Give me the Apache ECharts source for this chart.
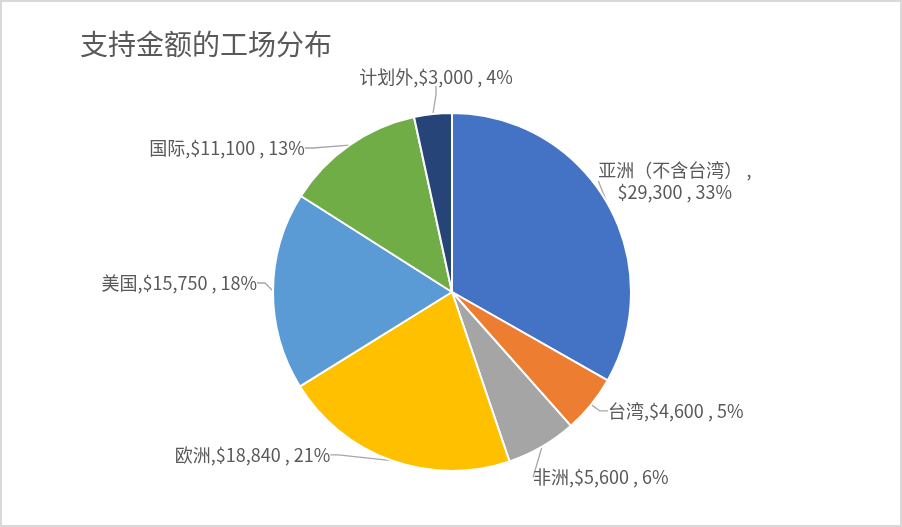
<!DOCTYPE html>
<html>
<head>
<meta charset="utf-8">
<script src="https://cdn.jsdelivr.net/npm/echarts@6/dist/echarts.min.js"></script>
<style>
html,body{margin:0;padding:0;background:#fff;}
#chart{position:absolute;left:0;top:0;width:902px;height:527px;}
#frame{position:absolute;left:0;top:0;width:898px;height:523px;border:2px solid #d9d9d9;pointer-events:none;}
</style>
</head>
<body>
<div id="chart"></div>
<div id="frame"></div>
<script>
const title = '支持金额的工场分布';
const categories = ['亚洲（不含台湾）', '台湾', '非洲', '欧洲', '美国', '国际', '计划外'];
const amounts = [29300, 4600, 5600, 18840, 15750, 11100, 3000];
const colors = ['#4472C4', '#ED7D31', '#A5A5A5', '#FFC000', '#5B9BD5', '#70AD47', '#264478'];

// label nudges (dx, dy) relative to ECharts' default outside placement
const labelNudge = [[-30, -18], [-4, 0], [-27, 22], [-45, -15], [7, -8], [-26, 11], [94, -27]];

const chart = echarts.init(document.getElementById('chart'));
const fmtMoney = v => '$' + v.toLocaleString('en-US');
const FONT = 'Noto Sans CJK SC';

chart.setOption({
  animation: false,
  title: {
    text: title,
    left: 75,
    top: 25,
    textStyle: {fontFamily: FONT, fontSize: 28, fontWeight: 'normal', color: '#595959'}
  },
  series: [{
    type: 'pie',
    center: [452, 292],
    radius: 179,
    startAngle: 90,
    clockwise: true,
    avoidLabelOverlap: false,
    percentPrecision: 0,
    itemStyle: {borderColor: '#ffffff', borderWidth: 2},
    label: {
      show: true,
      position: 'outside',
      fontFamily: FONT,
      fontSize: 18,
      color: '#595959',
      formatter: p => {
        const t = fmtMoney(p.value) + ' , ' + p.percent + '%';
        if (p.dataIndex === 0) return '{c|' + p.name + ' ,}\n{c|' + t + '}';
        return p.name + ',' + t;
      },
      rich: {c: {align: 'center', fontFamily: FONT, fontSize: 18, color: '#595959', lineHeight: 22}}
    },
    labelLine: {show: true, length: 10, length2: 8, lineStyle: {color: '#A6A6A6', width: 1.3}},
    labelLayout: p => {
      const n = labelNudge[p.dataIndex];
      return {x: p.labelRect.x + n[0], y: p.labelRect.y + n[1], align: 'left', verticalAlign: 'top'};
    },
    data: categories.map((c, i) => ({name: c, value: amounts[i], itemStyle: {color: colors[i]}}))
  }]
});
</script>
</body>
</html>
